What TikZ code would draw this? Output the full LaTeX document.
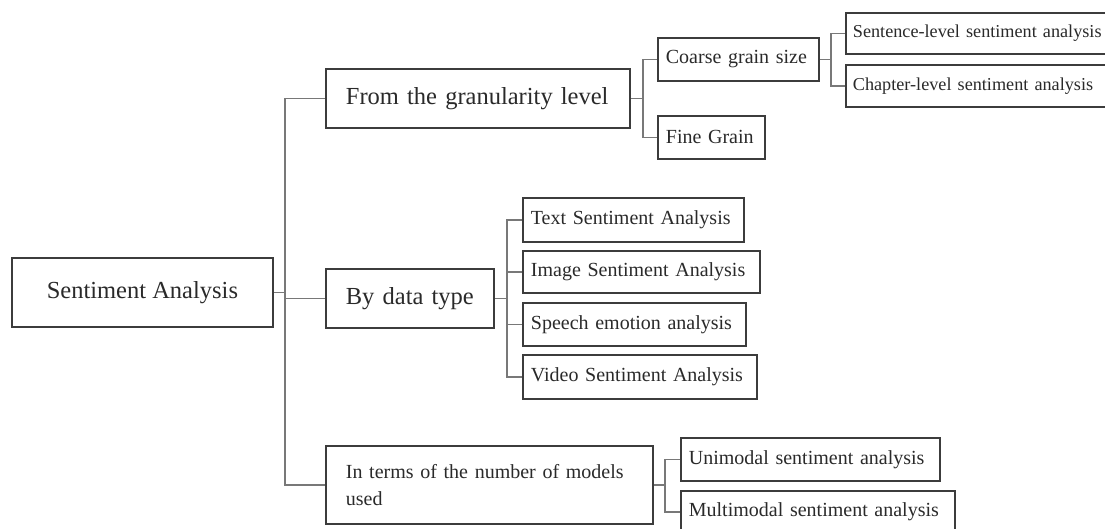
\documentclass[tikz,border=0pt]{standalone}
\usepackage{fontspec}
\setmainfont{Liberation Serif}
\definecolor{boxc}{HTML}{3C3C3C}
\definecolor{txtc}{HTML}{2A2A2A}
\definecolor{connc}{HTML}{787878}
\begin{document}
\begin{tikzpicture}[x=1pt,y=-1pt,
  box/.style={draw=boxc, line width=1.8pt, rectangle, anchor=north west, inner ysep=0pt, text=txtc, align=left},
  big/.style={font=\fontsize{24.5}{29}\selectfont, inner xsep=20pt},
  mid/.style={font=\fontsize{20}{27}\selectfont, inner xsep=8pt},
  small/.style={font=\fontsize{18.2}{22}\selectfont, inner xsep=7pt},
  conn/.style={draw=connc, line width=1.3pt}]
\useasboundingbox (0,0) rectangle (1105,528);
\clip (0,0) rectangle (1105,528);
\fill[white] (0,0) rectangle (1105,528);

% root
\node[box, align=center, font=\fontsize{24.5}{29}\selectfont, minimum width=261pt, minimum height=69pt, inner xsep=0pt] (root) at (11,257) {Sentiment Analysis};

% level 1
\node[box, big, minimum height=59pt, text width=264pt] (gran) at (325,68) {From the granularity level};
\node[box, big, minimum height=59pt, text width=128pt] (data) at (325,268) {By data type};
\node[box, mid, inner xsep=20pt, minimum height=78pt, text width=287pt] (terms) at (325,445) {In terms of the number of models\\used};

% granularity children
\node[box, mid, minimum height=43pt, text width=145pt] (coarse) at (657,37) {Coarse grain size};
\node[box, mid, minimum height=43pt, text width=91pt] (fine) at (657,115) {Fine Grain};
\node[box, small, minimum height=41pt, text width=261pt] (sent) at (845,12) {Sentence-level sentiment analysis};
\node[box, small, minimum height=42pt, text width=261pt] (chap) at (845,64) {Chapter-level sentiment analysis};

% data type children
\node[box, mid, minimum height=44pt, text width=205pt] (txt) at (522,197) {Text Sentiment Analysis};
\node[box, mid, minimum height=42pt, text width=221pt] (img) at (522,250) {Image Sentiment Analysis};
\node[box, mid, minimum height=43pt, text width=207pt] (speech) at (522,302) {Speech emotion analysis};
\node[box, mid, minimum height=44pt, text width=218pt] (video) at (522,354) {Video Sentiment Analysis};

% terms children
\node[box, mid, minimum height=43pt, text width=243pt] (uni) at (680,437) {Unimodal sentiment analysis};
\node[box, mid, minimum height=42pt, text width=258pt] (multi) at (680,490) {Multimodal sentiment analysis};

% junction coordinates
\coordinate (j0) at (285,0);
\coordinate (j1) at (643,0);
\coordinate (j2) at (831,0);
\coordinate (j3) at (507,0);
\coordinate (j4) at (665,0);

% connectors
\draw[conn] (root.east) -- (root.east -| j0);
\draw[conn] (gran.west) -- (gran.west -| j0) -- (terms.west -| j0) -- (terms.west);
\draw[conn] (data.west) -- (data.west -| j0);

\draw[conn] (gran.east) -- (gran.east -| j1);
\draw[conn] (coarse.west) -- (coarse.west -| j1) -- (fine.west -| j1) -- (fine.west);

\draw[conn] (coarse.east) -- (coarse.east -| j2);
\draw[conn] (sent.west) -- (sent.west -| j2) -- (chap.west -| j2) -- (chap.west);

\draw[conn] (data.east) -- (data.east -| j3);
\draw[conn] (txt.west) -- (txt.west -| j3) -- (video.west -| j3) -- (video.west);
\draw[conn] (img.west) -- (img.west -| j3);
\draw[conn] (speech.west) -- (speech.west -| j3);

\draw[conn] (terms.east) -- (terms.east -| j4);
\draw[conn] (uni.west) -- (uni.west -| j4) -- (multi.west -| j4) -- (multi.west);
\end{tikzpicture}
\end{document}
